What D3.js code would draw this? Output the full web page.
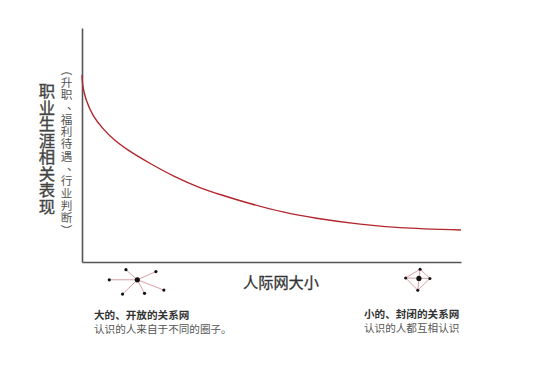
<!DOCTYPE html>
<html>
<head>
<meta charset="utf-8">
<script src="https://cdn.jsdelivr.net/npm/d3@7"></script>
<style>
    html, body { margin: 0; padding: 0; background: #fff; }
    svg { display: block; }
    text { font-family: "Noto Sans CJK SC", sans-serif; fill: #333; }
    .vertical text { font-family: "Liberation Sans", "Noto Sans CJK SC", sans-serif; }
</style>
</head>
<body>
<div id="chart"></div>
<script>
// curve (x 0-100, y 0-100)
const curveX = [0, 0.26, 1.13, 2.9, 5.5, 8.6, 12.1, 17.9, 24.5, 31.1, 37.7, 44.3, 53, 61.9, 73.4, 83.9, 100];
const curveY = [79.9, 74.9, 69.2, 62.8, 57.1, 52.1, 47.9, 42.2, 36.5, 31.8, 28.2, 25, 21.4, 18.7, 16.2, 14.7, 13.7];

// small network sketches, same units as the curve (below the axis = negative)
const openNodes = [[14.6, -7.6], [11.6, -3.3], [19.5, -4.1], [7.2, -7.6], [10.7, -13.7], [16.5, -13.4], [21.6, -12]];
const openEdges = [[0, 1], [0, 2], [0, 3], [0, 4], [0, 5], [0, 6]];
const closedNodes = [[88.9, -7], [89.2, -3.1], [85.4, -6.8], [91.8, -7], [88.6, -12.1]];
const closedEdges = [[0, 1], [0, 2], [0, 3], [0, 4], [1, 2], [1, 3], [2, 4], [3, 4]];

const yTitle = '职业生涯相关表现';
const ySubtitle = '（升职、福利待遇、行业判断）';
const xTitle = '人际网大小';
const openCaption = ['大的、开放的关系网', '认识的人来自于不同的圈子。'];
const closedCaption = ['小的、封闭的关系网', '认识的人都互相认识'];

const width = 541, height = 368;
const x = d3.scaleLinear().domain([0, 100]).range([82, 461]);
const y = d3.scaleLinear().domain([0, 100]).range([262, 28]);

const svg = d3.select('#chart').append('svg')
    .attr('width', width)
    .attr('height', height);

// axes
svg.append('g')
    .attr('transform', `translate(0,${y(0)})`)
    .call(d3.axisBottom(x).tickValues([]).tickSize(0))
    .select('.domain').attr('stroke', '#555').attr('stroke-width', 1.6);
svg.append('g')
    .attr('transform', `translate(${x(0)},0)`)
    .call(d3.axisLeft(y).tickValues([]).tickSize(0))
    .select('.domain').attr('stroke', '#555').attr('stroke-width', 1.6);

// curve
const line = d3.line()
    .x(d => x(d[0]))
    .y(d => y(d[1]))
    .curve(d3.curveCatmullRom.alpha(0.5));
svg.append('path')
    .datum(curveX.map((v, i) => [v, curveY[i]]))
    .attr('d', line)
    .attr('fill', 'none')
    .attr('stroke', '#b2272d')
    .attr('stroke-width', 1.4);

// network sketches
function drawNetwork(nodes, edges, leafRadius) {
    const g = svg.append('g');
    g.selectAll('line')
        .data(edges)
        .enter().append('line')
        .attr('x1', d => x(nodes[d[0]][0]))
        .attr('y1', d => y(nodes[d[0]][1]))
        .attr('x2', d => x(nodes[d[1]][0]))
        .attr('y2', d => y(nodes[d[1]][1]))
        .attr('stroke', '#d9a0a4')
        .attr('stroke-width', 1);
    g.selectAll('circle')
        .data(nodes)
        .enter().append('circle')
        .attr('cx', d => x(d[0]))
        .attr('cy', d => y(d[1]))
        .attr('r', (d, i) => i === 0 ? 2.6 : leafRadius)
        .attr('fill', '#111');
}
drawNetwork(openNodes, openEdges, 1.6);
drawNetwork(closedNodes, closedEdges, 1.5);

// vertical text, one glyph per row so it stays upright
function drawVertical(label, cx, top, step, size, color, strokeWidth) {
    const g = svg.append('g').attr('class', 'vertical');
    g.selectAll('text')
        .data(Array.from(label))
        .enter().append('text')
        .attr('text-anchor', 'middle')
        .attr('dominant-baseline', 'central')
        .attr('transform', (d, i) => {
            const cy = top + step * (i + 0.5);
            if (d === '（' || d === '）') return `translate(${cx},${cy}) rotate(90)`;
            if (d === '、') return `translate(${cx + size * 0.55},${cy - size * 0.22})`;
            return `translate(${cx},${cy})`;
        })
        .style('font-size', size + 'px')
        .style('fill', color)
        .style('stroke', strokeWidth ? color : 'none')
        .style('stroke-width', strokeWidth || 0)
        .text(d => d);
}
drawVertical(yTitle, 47, 83, 16.5, 16.4, '#444', 0.35);
drawVertical(ySubtitle, 66.5, 64, 12.3, 11.6, '#555');

svg.append('text')
    .attr('x', 281)
    .attr('y', 288)
    .attr('text-anchor', 'middle')
    .style('font-size', '15.2px')
    .style('stroke', '#333')
    .style('stroke-width', 0.3)
    .text(xTitle);

// captions
function drawCaption(lines, left, top) {
    svg.append('text').attr('x', left).attr('y', top)
        .style('font-size', '10.6px').style('font-weight', 700)
        .text(lines[0]);
    svg.append('text').attr('x', left).attr('y', top + 14)
        .style('font-size', '10.6px')
        .style('fill', '#555')
        .text(lines[1]);
}
drawCaption(openCaption, 94, 319);
drawCaption(closedCaption, 364, 318);
</script>
</body>
</html>
